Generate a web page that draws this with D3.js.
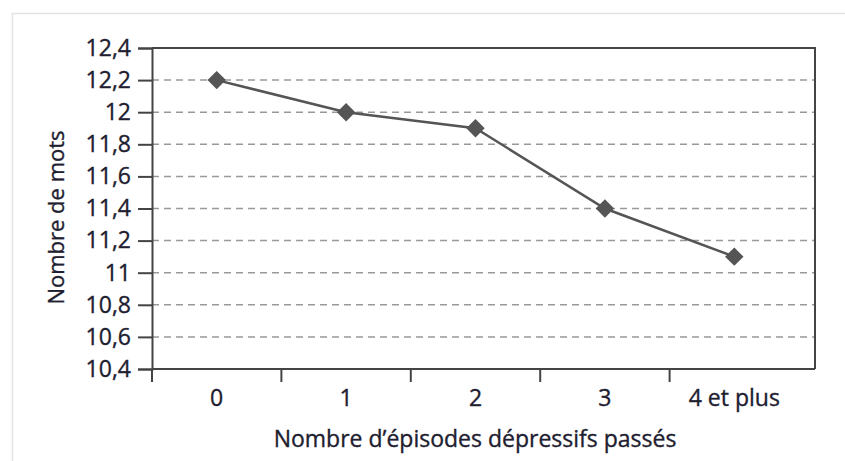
<!DOCTYPE html>
<html>
<head>
<meta charset="utf-8">
<script src="https://cdn.jsdelivr.net/npm/d3@7"></script>
<style>
  body { margin: 0; background: #fff; }
  text { font-family: 'Open Sans', sans-serif; fill: #1e2030; stroke: #1e2030; stroke-width: 0.35px; }
</style>
</head>
<body>
<div id="canvas"></div>
<script>
const categories = ['0', '1', '2', '3', '4 et plus'];
const values = [12.2, 12.0, 11.9, 11.4, 11.1];
const yTicks = [10.4, 10.6, 10.8, 11, 11.2, 11.4, 11.6, 11.8, 12, 12.2, 12.4];

const w = 845;
const h = 461;
const plotLeft = 152, plotTop = 48, plotRight = 815, plotBottom = 369;

const svg = d3.select('#canvas')
  .append('svg')
  .attr('width', w)
  .attr('height', h);

// light frame around the figure
svg.append('rect')
  .attr('x', 12.5).attr('y', 13.5)
  .attr('width', 900).attr('height', 500)
  .attr('fill', 'none')
  .attr('stroke', '#e2e2e2')
  .attr('stroke-width', 1.5);

const x = d3.scaleBand()
  .domain(categories)
  .range([plotLeft, 799]);

const y = d3.scaleLinear()
  .domain([10.4, 12.4])
  .range([plotBottom, plotTop]);

const fmt = d => String(d).replace('.', ',');

// grid
svg.append('g')
  .selectAll('line')
  .data(yTicks.slice(1, -1))
  .enter()
  .append('line')
  .attr('x1', plotLeft).attr('x2', plotRight)
  .attr('y1', d => y(d)).attr('y2', d => y(d))
  .attr('stroke', '#999')
  .attr('stroke-width', 1.5)
  .attr('stroke-dasharray', '7,5');

// frame top + right
svg.append('path')
  .attr('d', `M${plotLeft},${plotTop}H${plotRight}V${plotBottom}`)
  .attr('fill', 'none')
  .attr('stroke', '#444')
  .attr('stroke-width', 2);

// y axis
const yAxis = svg.append('g')
  .attr('transform', `translate(${plotLeft},0)`)
  .call(d3.axisLeft(y).tickValues(yTicks).tickFormat(fmt).tickSize(14).tickPadding(7));
yAxis.select('.domain').attr('stroke', '#444').attr('stroke-width', 2);
yAxis.selectAll('.tick line').attr('stroke', '#444').attr('stroke-width', 2);
yAxis.selectAll('.tick text').attr('font-size', 23).attr('font-family', "'Open Sans', sans-serif").attr('fill', '#1e2030');

// x axis: ticks between categories
const xAxis = svg.append('g')
  .attr('transform', `translate(0,${plotBottom})`);
xAxis.append('line')
  .attr('x1', plotLeft).attr('x2', plotRight)
  .attr('stroke', '#444').attr('stroke-width', 2);
xAxis.selectAll('.sep')
  .data([plotLeft].concat(categories.slice(1).map(c => x(c))))
  .enter()
  .append('line')
  .attr('class', 'sep')
  .attr('x1', d => d).attr('x2', d => d)
  .attr('y1', 0).attr('y2', 13)
  .attr('stroke', '#444').attr('stroke-width', 2);
xAxis.selectAll('.lab')
  .data(categories)
  .enter()
  .append('text')
  .attr('x', d => x(d) + x.bandwidth() / 2)
  .attr('y', 37)
  .attr('text-anchor', 'middle')
  .attr('font-size', 23)
  .text(d => d);

// axis titles
svg.append('text')
  .attr('x', 475).attr('y', 447)
  .attr('text-anchor', 'middle')
  .attr('font-size', 23)
  .text('Nombre d\u2019épisodes dépressifs passés');

svg.append('text')
  .attr('transform', 'translate(64,' + ((plotTop + plotBottom) / 2 + 9) + ') rotate(-90)')
  .attr('text-anchor', 'middle')
  .attr('font-size', 22)
  .text('Nombre de mots');

// line + markers
const cx = d => x(d) + x.bandwidth() / 2;
svg.append('path')
  .datum(values)
  .attr('d', d3.line().x((d, i) => cx(categories[i])).y(d => y(d)))
  .attr('fill', 'none')
  .attr('stroke', '#555')
  .attr('stroke-width', 2.5);

svg.append('g')
  .selectAll('path')
  .data(values)
  .enter()
  .append('path')
  .attr('transform', (d, i) => `translate(${cx(categories[i])},${y(d)}) rotate(45)`)
  .attr('d', 'M-6.5,-6.5H6.5V6.5H-6.5Z')
  .attr('fill', '#555');
</script>
</body>
</html>
